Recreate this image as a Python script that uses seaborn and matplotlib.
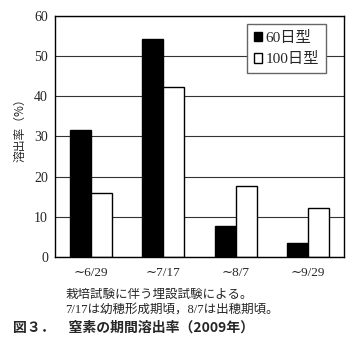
import matplotlib
matplotlib.use("Agg")
import matplotlib.pyplot as plt
import seaborn as sns
import pandas as pd
from matplotlib.ticker import FixedLocator

periods = ["∼6/29", "∼7/17", "∼8/7", "∼9/29"]
series_names = ["60日型", "100日型"]
vals_60 = [31.6, 54.3, 7.7, 3.5]
vals_100 = [16.0, 42.2, 17.6, 12.1]
yticks = [0, 10, 20, 30, 40, 50, 60]

df = pd.DataFrame({
    "period": periods * 2,
    "type": [series_names[0]] * 4 + [series_names[1]] * 4,
    "rate": vals_60 + vals_100,
})

sns.set_style("white")
SERIF = ["Liberation Serif", "DejaVu Serif", "Noto Sans CJK JP"]
MIX = ["Liberation Serif", "Noto Sans CJK JP", "DejaVu Serif"]
CJK = ["Noto Sans CJK JP", "DejaVu Sans"]

fig = plt.figure(figsize=(3.61, 3.60), dpi=100)
ax = fig.add_axes([0.152, 0.286, 0.801, 0.670])

sns.barplot(data=df, x="period", y="rate", hue="type",
            palette=["black", "white"], edgecolor="black", linewidth=1.0,
            width=0.58, ax=ax, saturation=1, errorbar=None)

ax.set_ylim(0, 60)
ax.set_xlim(-0.5, 3.5)
ax.set_yticks(yticks)
ax.set_axisbelow(True)
ax.yaxis.grid(True, color="#333333", linewidth=0.8)
ax.xaxis.grid(False)
for s in ax.spines.values():
    s.set_visible(True)
    s.set_color("black")
    s.set_linewidth(1.0)

ax.tick_params(axis="y", length=0, pad=5)
ax.tick_params(axis="x", which="major", length=0, pad=7)
ax.xaxis.set_minor_locator(FixedLocator([0.5, 1.5, 2.5]))
ax.tick_params(axis="x", which="minor", direction="in", length=3, width=0.8, color="black")

for lab in ax.get_yticklabels():
    lab.set_fontfamily(SERIF)
    lab.set_fontsize(10)
for lab in ax.get_xticklabels():
    lab.set_fontfamily(SERIF)
    lab.set_fontsize(9.5)

ax.set_xlabel("")
ax.set_ylabel("溶出率（%）", fontfamily=CJK, fontsize=8.5)
ax.yaxis.set_label_coords(-0.10, 0.54)

handles, labels = ax.get_legend_handles_labels()
ax.legend(handles, labels, loc="upper right", bbox_to_anchor=(0.938, 0.967),
          borderaxespad=0, fancybox=False, framealpha=1, edgecolor="#666666",
          handlelength=0.55, handleheight=0.55, handletextpad=0.25,
          labelspacing=0.5, borderpad=0.45,
          prop={"family": MIX, "size": 11})

fig.text(0.180, 0.180, "栽培試験に伴う埋設試験による。", fontfamily=MIX,
         fontsize=9, va="center", ha="left")
fig.text(0.180, 0.141, "7/17は幼穂形成期頃，8/7は出穂期頃。", fontfamily=MIX,
         fontsize=9, va="center", ha="left")
fig.text(0.036, 0.090, "図３．　窒素の期間溶出率（2009年）", fontfamily=CJK,
         fontsize=10, fontweight="bold", va="center", ha="left")

fig.savefig("out.png", dpi=100)
